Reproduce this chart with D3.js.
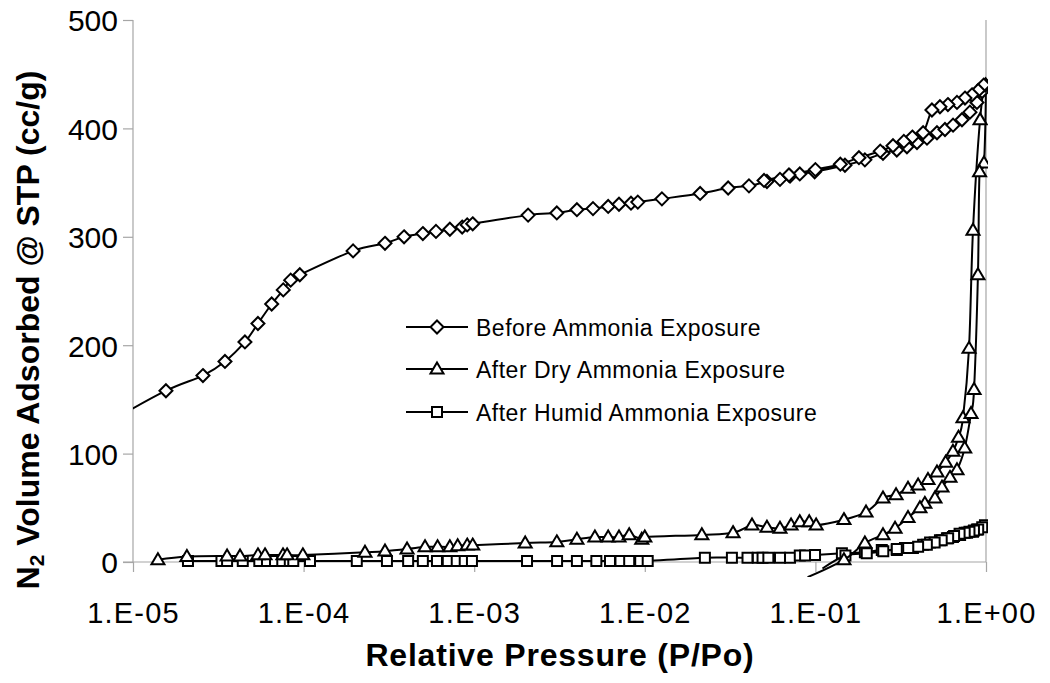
<!DOCTYPE html>
<html><head><meta charset="utf-8">
<script src="https://cdn.jsdelivr.net/npm/d3@7"></script>
<style>
html,body{margin:0;padding:0;background:#fff;}
svg{display:block;}
text{font-family:"Liberation Sans",Arial,sans-serif;fill:#000;}
</style></head>
<body>
<svg id="chart" width="1050" height="683"></svg>
<script>
// ---------------- data ----------------
const xTicks = [1e-5, 1e-4, 1e-3, 1e-2, 1e-1, 1];
const xTickLabels = ["1.E-05","1.E-04","1.E-03","1.E-02","1.E-01","1.E+00"];
const yTicks = [0, 100, 200, 300, 400, 500];
const seriesNames = ["Before Ammonia Exposure","After Dry Ammonia Exposure","After Humid Ammonia Exposure"];

// Before ammonia exposure (adsorption then desorption)
const beforeP = [7e-6,1.56e-5,2.57e-5,3.46e-5,4.53e-5,5.4e-5,6.5e-5,7.6e-5,8.4e-5,9.5e-5,
  1.95e-4,3.0e-4,3.88e-4,5.0e-4,5.97e-4,7.2e-4,8.5e-4,9.1e-4,9.8e-4,
  2.07e-3,3.05e-3,4.0e-3,4.97e-3,6.1e-3,7.06e-3,8.3e-3,9.1e-3,1.26e-2,2.11e-2,3.08e-2,4.08e-2,5.2e-2,6.2e-2,7.1e-2,8.1e-2,9.9e-2,
  0.149,0.195,0.249,0.30,0.344,0.394,0.451,0.516,0.575,0.641,0.723,0.805,0.885,0.948,0.995,
  0.97,0.90,0.828,0.753,0.676,0.598,0.537,0.482,0.428,0.37,0.33,0.285,0.24,0.18,0.14,0.10,0.07,0.05];
const beforeV = [128,158,172,185,203,220,238,251,260,265,
  287,294,300,303,305,307,309,311,312,
  320,322,325,326,328,330,331,332,335,340,345,347,351,353,356,358,360,
  366,371,377,380,383,387,391,396,399,403,408,415,424,434,440,
  440,435,431,428,424,422,420,417,396,392,388,384,379,373,367,362,357,352];

// After dry ammonia exposure
const dryP = [1.4e-5,2.07e-5,3.56e-5,4.24e-5,5.4e-5,5.94e-5,7.57e-5,8.0e-5,9.9e-5,
  2.29e-4,3.0e-4,4.04e-4,5.15e-4,6.1e-4,7.2e-4,8.0e-4,9.1e-4,9.8e-4,
  1.99e-3,3.05e-3,4.0e-3,5.1e-3,6.1e-3,7.06e-3,8.1e-3,9.6e-3,1.0e-2,2.16e-2,
  3.29e-2,4.25e-2,5.2e-2,6.2e-2,7.2e-2,8.1e-2,9.2e-2,0.101,0.147,0.198,0.249,0.297,0.349,0.40,0.457,0.516,
  0.58,0.64,0.69,0.733,0.795,0.839,0.923,0.995,
  0.973,0.917,0.897,0.851,0.817,0.75,0.676,0.615,0.552,0.502,0.438,0.41,0.349,0.293,0.249,0.195,0.147,0.09];
const dryV = [2,5,5.5,5.5,6.5,6.5,6.5,6.5,6.5,
  9,10,12,14,14,14,15,15.5,15.5,
  17.5,18.5,21,23,23,23,25,21,23,25,
  27,34,32,31,34,37,37,34,39,46,59,62,68,71,76,83,
  92,102,115,133,197,306,408,440,
  368,360,265,159,137,105,85,78,69,59,54,50,41,31,25,17.5,2,-14];

// After humid ammonia exposure
const humidP = [2.1e-5,3.3e-5,3.56e-5,4.4e-5,5.5e-5,6.1e-5,6.8e-5,7.5e-5,8.3e-5,8.7e-5,1.09e-4,
  2.05e-4,3.08e-4,4.1e-4,5.0e-4,6.05e-4,7.0e-4,7.9e-4,8.8e-4,9.7e-4,
  2.04e-3,3.06e-3,4.0e-3,5.2e-3,6.25e-3,7.2e-3,8.1e-3,9.4e-3,1.04e-2,2.25e-2,
  3.24e-2,4.0e-2,4.6e-2,4.9e-2,5.3e-2,6.2e-2,7.1e-2,8.1e-2,8.7e-2,9.95e-2,
  0.143,0.195,0.245,0.30,0.335,0.373,0.428,0.47,0.537,0.59,0.64,0.705,0.775,0.839,0.885,0.986,
  0.95,0.90,0.85,0.80,0.75,0.70,0.65,0.60,0.55,0.50,0.45,0.40,0.35,0.30,0.25,0.20,0.15,0.11];
const humidV = [1,1,1,1,1,1,1,1,1,1,1,
  1,1,1,1,1,1,1,1,1,
  1,1,1,1,1,1,1,1,1,4,
  4,4,4,4,4,4,4,6,6,6.5,
  8,9,11,11,13,13,16,18,20,22,23,25,27,28,30,34,
  32,30,29,28,27,26,24,22,20,18,16,14,13,12,10,8,6,-6];

// ---------------- chart ----------------
const svg = d3.select("#chart");
const x = d3.scaleLog().domain([1e-5, 1]).range([133, 986]);
const y = d3.scaleLinear().domain([0, 500]).range([562, 20]);
const axisColor = "#a6a6a6";

svg.append("defs").append("clipPath").attr("id","plotclip")
  .append("rect").attr("x",133).attr("y",10).attr("width",855).attr("height",567);

// right border
svg.append("line").attr("x1",986).attr("x2",986).attr("y1",20).attr("y2",562)
  .attr("stroke",axisColor).attr("stroke-width",1.2);

// y axis
const gy = svg.append("g").attr("transform","translate(133,0)")
  .call(d3.axisLeft(y).tickValues(yTicks).tickSize(10).tickPadding(5).tickFormat(d3.format("d")));
gy.select(".domain").attr("stroke",axisColor).attr("stroke-width",1.2).attr("d","M0,20V562");
gy.selectAll(".tick line").attr("stroke",axisColor).attr("stroke-width",1.2);
gy.selectAll(".tick text").attr("font-size",30).attr("dy","0.36em").attr("x",-15)
  .style("font-family","'Liberation Sans',Arial,sans-serif");

// x axis
const gx = svg.append("g").attr("transform","translate(0,562)")
  .call(d3.axisBottom(x).tickValues(xTicks).tickSize(10).tickFormat((d,i)=>xTickLabels[i]));
gx.select(".domain").attr("stroke",axisColor).attr("stroke-width",1.2).attr("d","M123,0H986");
gx.selectAll(".tick line").attr("stroke",axisColor).attr("stroke-width",1.2);
gx.selectAll(".tick text").attr("font-size",29).attr("dy",null).attr("y",61)
  .attr("letter-spacing",1.2)
  .style("font-family","'Liberation Sans',Arial,sans-serif");

// axis titles
svg.append("text").attr("x",560).attr("y",666).attr("text-anchor","middle")
  .attr("font-size",32).attr("font-weight","bold").attr("letter-spacing",0.8)
  .text("Relative Pressure (P/Po)");
const yt = svg.append("text").attr("transform","translate(39,330) rotate(-90)")
  .attr("text-anchor","middle").attr("font-size",32).attr("font-weight","bold");
yt.append("tspan").text("N");
yt.append("tspan").attr("font-size",21).attr("dy",5).text("2");
yt.append("tspan").attr("dy",-5).text(" Volume Adsorbed @ STP (cc/g)");

// marker paths
function markerPath(type, cx, cy){
  if(type==="diamond"){ const r=6.5; return `M${cx},${cy-r}L${cx+r},${cy}L${cx},${cy+r}L${cx-r},${cy}Z`; }
  if(type==="triangle"){ const w=6.5, h=11; return `M${cx},${cy-h*0.6}L${cx+w},${cy+h*0.4}L${cx-w},${cy+h*0.4}Z`; }
  const s=5; return `M${cx-s},${cy-s}H${cx+s}V${cy+s}H${cx-s}Z`;
}

const series = [
  {name:seriesNames[0], P:beforeP, V:beforeV, marker:"diamond"},
  {name:seriesNames[1], P:dryP, V:dryV, marker:"triangle"},
  {name:seriesNames[2], P:humidP, V:humidV, marker:"square"}
];

const line = d3.line().x(d=>x(d[0])).y(d=>y(d[1])).curve(d3.curveCardinal.tension(0));
const plot = svg.append("g").attr("clip-path","url(#plotclip)");

series.slice().reverse().forEach(s=>{
  const pts = s.P.map((p,i)=>[p, s.V[i]]);
  plot.append("path").attr("d", line(pts)).attr("fill","none").attr("stroke","#000").attr("stroke-width",2);
  pts.filter(d=>d[0]>=1e-5 && d[1]>=0).forEach(d=>{
    plot.append("path").attr("d", markerPath(s.marker, x(d[0]), y(d[1])))
      .attr("fill","#fff").attr("stroke","#000").attr("stroke-width",2);
  });
});

// legend
const legRows = [327, 369, 412];
series.forEach((s,i)=>{
  const g = svg.append("g");
  g.append("line").attr("x1",406).attr("x2",468).attr("y1",legRows[i]).attr("y2",legRows[i])
    .attr("stroke","#000").attr("stroke-width",2);
  g.append("path").attr("d", markerPath(s.marker, 437, legRows[i]))
    .attr("fill","#fff").attr("stroke","#000").attr("stroke-width",2);
  g.append("text").attr("x",476).attr("y",legRows[i]+8.5).attr("font-size",23)
    .attr("letter-spacing",0.5).text(s.name);
});
</script>
</body></html>
